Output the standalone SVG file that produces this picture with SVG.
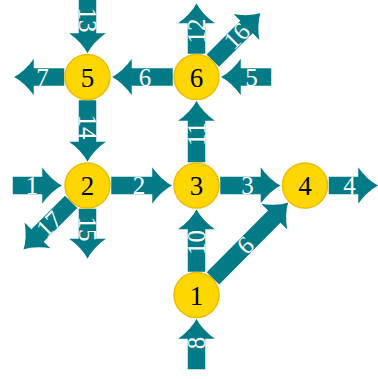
<svg xmlns="http://www.w3.org/2000/svg" width="378" height="379" viewBox="0 0 378 379">
  <style>
    .arrow { fill: #037B87; stroke: #ffffff; stroke-width: 1.5; stroke-linejoin: miter; }
    .elabel { font-family: "Liberation Serif", "Times New Roman", serif; font-size: 25px; fill: #ffffff; text-anchor: middle; }
    .node circle { fill: #FFD700; stroke: #F2BA00; stroke-width: 1.5; }
    .node text { font-family: "Liberation Serif", "Times New Roman", serif; font-size: 27px; fill: #000000; text-anchor: middle; }
  </style>
  <rect width="378" height="379" fill="#ffffff"/>

  <!-- Block arrows: tip at the local origin, pointing along +x -->
  <g id="connectors">
    <g id="e1"><path class="arrow" transform="translate(63.5,185.5)" d="M-51.5,-9.5 H-22 V-20.5 Q-12,-6 0,0 Q-12,6 -22,20.5 V9.5 H-51.5 Z"/><text class="elabel" transform="translate(32,185.5)" y="8.5">1</text></g>
    <g id="e2"><path class="arrow" transform="translate(173.5,185.5)" d="M-63,-9.5 H-22 V-20.5 Q-12,-6 0,0 Q-12,6 -22,20.5 V9.5 H-63 Z"/><text class="elabel" transform="translate(139,185.5)" y="8.5">2</text></g>
    <g id="e3"><path class="arrow" transform="translate(282,185.5)" d="M-62.5,-9.5 H-22 V-20.5 Q-12,-6 0,0 Q-12,6 -22,20.5 V9.5 H-62.5 Z"/><text class="elabel" transform="translate(247.5,185.5)" y="8.5">3</text></g>
    <g id="e4"><path class="arrow" transform="translate(379.5,185.5)" d="M-51.5,-9.5 H-22 V-20.5 Q-12,-6 0,0 Q-12,6 -22,20.5 V9.5 H-51.5 Z"/><text class="elabel" transform="translate(349.5,185.5)" y="8.5">4</text></g>
    <g id="e5"><path class="arrow" transform="translate(219.5,77) rotate(180)" d="M-52.5,-9.5 H-22 V-20.5 Q-12,-6 0,0 Q-12,6 -22,20.5 V9.5 H-52.5 Z"/><text class="elabel" transform="translate(251.5,77)" y="8.5">5</text></g>
    <g id="e6"><path class="arrow" transform="translate(110.5,77) rotate(180)" d="M-63,-9.5 H-22 V-20.5 Q-12,-6 0,0 Q-12,6 -22,20.5 V9.5 H-63 Z"/><text class="elabel" transform="translate(145,77)" y="8.5">6</text></g>
    <g id="e7"><path class="arrow" transform="translate(12.5,77) rotate(180)" d="M-52.5,-9.5 H-22 V-20.5 Q-12,-6 0,0 Q-12,6 -22,20.5 V9.5 H-52.5 Z"/><text class="elabel" transform="translate(42.5,77)" y="8.5">7</text></g>
    <g id="e8"><path class="arrow" transform="translate(196.5,317.5) rotate(-90)" d="M-52.5,-9.5 H-22 V-20.5 Q-12,-6 0,0 Q-12,6 -22,20.5 V9.5 H-52.5 Z"/><text class="elabel" transform="translate(196.5,343) rotate(-90)" y="8.5">8</text></g>
    <g id="e9"><path class="arrow" transform="translate(289.2,201.5) rotate(-45.26)" d="M-109,-9.5 H-22 V-20.5 Q-12,-6 0,0 Q-12,6 -22,20.5 V9.5 H-109 Z"/><text class="elabel" transform="translate(245.8,245.8) rotate(135)" y="8.5">9</text></g>
    <g id="e10"><path class="arrow" transform="translate(196.5,208) rotate(-90)" d="M-64.5,-9.5 H-22 V-20.5 Q-12,-6 0,0 Q-12,6 -22,20.5 V9.5 H-64.5 Z"/><text class="elabel" transform="translate(196.5,242.5) rotate(-90)" y="8.5">10</text></g>
    <g id="e11"><path class="arrow" transform="translate(196.5,99.5) rotate(-90)" d="M-63.5,-9.5 H-22 V-20.5 Q-12,-6 0,0 Q-12,6 -22,20.5 V9.5 H-63.5 Z"/><text class="elabel" transform="translate(196.5,134) rotate(-90)" y="8.5">11</text></g>
    <g id="e12"><path class="arrow" transform="translate(196.5,2) rotate(-90)" d="M-52.5,-9.5 H-22 V-20.5 Q-12,-6 0,0 Q-12,6 -22,20.5 V9.5 H-52.5 Z"/><text class="elabel" transform="translate(196.5,31) rotate(-90)" y="8.5">12</text></g>
    <g id="e13"><path class="arrow" transform="translate(87.5,54.5) rotate(90)" d="M-60,-9.5 H-22 V-20.5 Q-12,-6 0,0 Q-12,6 -22,20.5 V9.5 H-60 Z"/><text class="elabel" transform="translate(87.5,20) rotate(90)" y="8.5">13</text></g>
    <g id="e14"><path class="arrow" transform="translate(87.5,163) rotate(90)" d="M-63.5,-9.5 H-22 V-20.5 Q-12,-6 0,0 Q-12,6 -22,20.5 V9.5 H-63.5 Z"/><text class="elabel" transform="translate(87.5,127) rotate(90)" y="8.5">14</text></g>
    <g id="e15"><path class="arrow" transform="translate(87.5,260) rotate(90)" d="M-52,-9.5 H-22 V-20.5 Q-12,-6 0,0 Q-12,6 -22,20.5 V9.5 H-52 Z"/><text class="elabel" transform="translate(87.5,229) rotate(90)" y="8.5">15</text></g>
    <g id="e16"><path class="arrow" transform="translate(261.5,12) rotate(-45)" d="M-69.5,-9.5 H-22 V-20.5 Q-12,-6 0,0 Q-12,6 -22,20.5 V9.5 H-69.5 Z"/><text class="elabel" transform="translate(236.7,35.8) rotate(-45)" y="8.5">16</text></g>
    <g id="e17"><path class="arrow" transform="translate(22.5,250.5) rotate(135)" d="M-69.5,-9.5 H-22 V-20.5 Q-12,-6 0,0 Q-12,6 -22,20.5 V9.5 H-69.5 Z"/><text class="elabel" transform="translate(49,224) rotate(-45)" y="8.5">17</text></g>
  </g>

  <!-- Nodes -->
  <g id="n1" class="node"><circle cx="196.5" cy="295" r="22.5"/><text x="196.5" y="304.5">1</text></g>
  <g id="n2" class="node"><circle cx="87.5" cy="185.5" r="22.5"/><text x="87.5" y="195">2</text></g>
  <g id="n3" class="node"><circle cx="196.5" cy="185.5" r="22.5"/><text x="196.5" y="195">3</text></g>
  <g id="n4" class="node"><circle cx="305" cy="185.5" r="22.5"/><text x="305" y="195">4</text></g>
  <g id="n5" class="node"><circle cx="87.5" cy="77" r="22.5"/><text x="87.5" y="86.5">5</text></g>
  <g id="n6" class="node"><circle cx="196.5" cy="77" r="22.5"/><text x="196.5" y="86.5">6</text></g>
</svg>
